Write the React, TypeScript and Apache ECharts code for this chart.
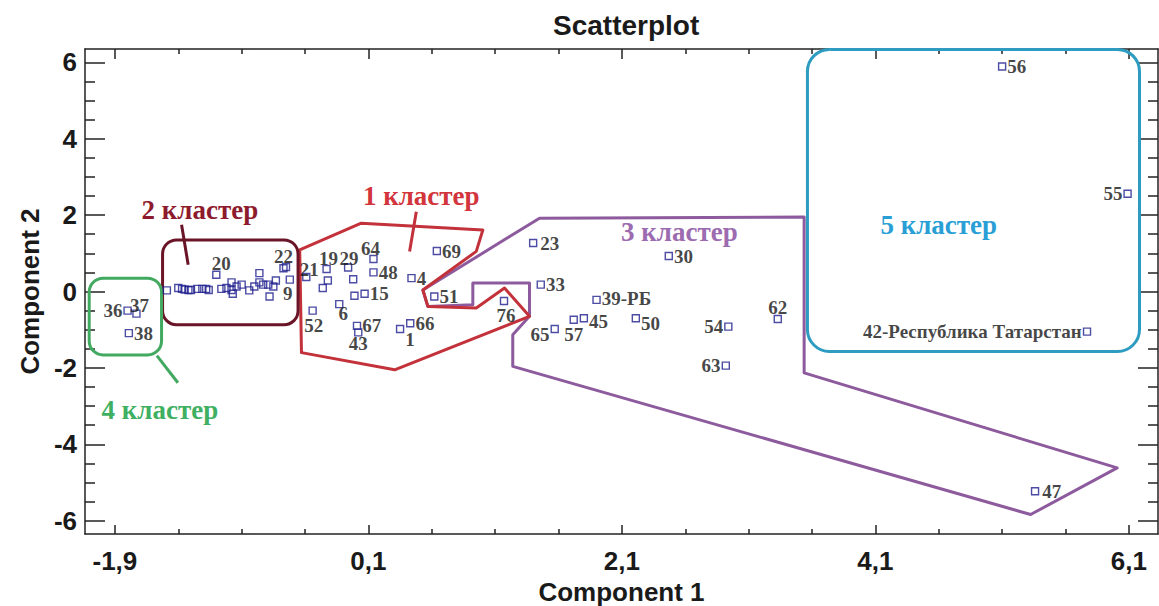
import React, { useEffect, useRef } from 'react';
import * as echarts from 'echarts';

// ---- data (Component 1, Component 2, point labels) ----
const names: string[] = [
  '36', '37', '38',
  '', '', '', '', '', '', '', '', '', '', '20', '', '', '', '', '', '', '', '', '', '', '', '', '', '', '', '', '22', '', '9',
  '21', '19', '', '', '29', '64', '', '48', '', '15', '6', '52', '67', '43', '4', '69', '51', '66', '1', '76',
  '23', '30', '33', '39-РБ', '57', '45', '65', '50', '54', '62', '63', '47',
  '42-Республика Татарстан', '56', '55',
];
const comp1: number[] = [
  -1.80, -1.73, -1.79,
  -1.49, -1.40, -1.37, -1.35, -1.32, -1.30, -1.25, -1.21, -1.18, -1.16, -1.10, -1.06, -1.02, -0.98, -0.98, -0.97, -0.94, -0.90, -0.84, -0.80, -0.76, -0.76, -0.73, -0.69, -0.68, -0.65, -0.63, -0.57, -0.55, -0.52,
  -0.39, -0.23, -0.22, -0.26, -0.06, 0.14, -0.02, 0.14, -0.01, 0.07, -0.13, -0.34, 0.01, 0.02, 0.44, 0.64, 0.62, 0.43, 0.35, 1.17,
  1.40, 2.47, 1.46, 1.90, 1.72, 1.80, 1.57, 2.21, 2.94, 3.33, 2.92, 5.36,
  5.77, 5.10, 6.09,
];
const comp2: number[] = [
  -0.50, -0.58, -1.09,
  0.03, 0.09, 0.07, 0.05, 0.04, 0.04, 0.07, 0.07, 0.07, 0.04, 0.44, 0.07, 0.09, 0.24, 0.04, -0.06, 0.13, 0.18, 0.03, 0.13, 0.48, 0.24, 0.18, 0.18, -0.13, 0.13, 0.29, 0.61, 0.64, 0.31,
  0.38, 0.59, 0.29, 0.09, 0.63, 0.85, 0.32, 0.50, -0.11, -0.06, -0.33, -0.50, -0.90, -1.07, 0.35, 1.06, -0.13, -0.83, -0.98, -0.25,
  1.27, 0.93, 0.18, -0.22, -0.74, -0.70, -0.98, -0.70, -0.92, -0.72, -1.94, -5.23,
  -1.05, 5.89, 2.56,
];

// ---- axis ticks / labels ----
const xMajorTicks = [-1.9, 0.1, 2.1, 4.1, 6.1];
const xMinorTicks = [-1.4, -0.9, -0.4, 0.6, 1.1, 1.6, 2.6, 3.1, 3.6, 4.6, 5.1, 5.6];
const yMajorTicks = [-6, -4, -2, 0, 2, 4, 6];
const yMinorTicks = [-5.5, -5, -4.5, -3.5, -3, -2.5, -1.5, -1, -0.5, 0.5, 1, 1.5, 2.5, 3, 3.5, 4.5, 5, 5.5];
const xRange = [-2.136, 6.33];
const yRange = [-6.35, 6.35];

// ---- label placement (style): position, dx, dy ----
const labelPlacement: Record<string, [string, number, number]> = {
  '36': ['left', 0, 0], '37': ['top', 3, 7], '38': ['right', 0, 0], '20': ['top', 5, 4], '22': ['top', 0, 3],
  '9': ['bottom', -2, -1], '21': ['top', 3, 7], '19': ['top', 2, 4], '29': ['top', 1, 6], '64': ['top', -3, 4],
  '48': ['right', 0, 0], '15': ['right', 0, 0], '6': ['bottom', 4, -5], '52': ['bottom', 1, 0], '67': ['right', 0, 0],
  '43': ['bottom', 0, -4], '4': ['right', 0, 0], '69': ['right', 0, 0], '51': ['right', 0, 0], '66': ['right', 0, 0],
  '1': ['bottom', 10, -4], '76': ['bottom', 2, 0], '23': ['right', 2, 0], '30': ['right', 0, 1], '33': ['right', 0, 0],
  '39-РБ': ['right', 0, -1], '57': ['bottom', 0, 0], '45': ['right', 0, 3], '65': ['left', 0, 6], '50': ['right', 0, 5],
  '54': ['left', 0, 0], '62': ['top', 0, 3], '63': ['left', 0, 0], '47': ['right', 2, 0],
  '42-Республика Татарстан': ['left', 0, 0], '56': ['right', 0, 0], '55': ['left', 0, 0],
};

// ---- cluster annotations (in data coordinates) ----
type Ann =
  | { kind: 'poly'; color: string; points: number[][] }
  | { kind: 'rrect'; color: string; from: number[]; to: number[]; r: number }
  | { kind: 'line'; color: string; from: number[]; to: number[] }
  | { kind: 'text'; color: string; at: number[]; text: string };

const annotations: Ann[] = [
  { kind: 'poly', color: '#8d5b9d', points: [[1.45, 1.92], [0.53, 0.04], [0.569, -0.39], [0.924, -0.35], [0.924, 0.22], [1.371, 0.22], [1.371, -0.65], [1.239, -1.13], [1.239, -1.96], [5.325, -5.84], [6.008, -4.62], [3.538, -2.13], [3.538, 1.95]] },
  { kind: 'poly', color: '#c3323b', points: [[-0.442, 1.09], [0.044, 1.79], [1.003, 1.61], [0.951, 1.05], [0.53, 0.04], [0.569, -0.39], [0.951, -0.43], [1.174, 0.09], [1.371, -0.65], [0.307, -2.05], [-0.428, -1.6]] },
  { kind: 'line', color: '#c3323b', from: [0.478, 2.09], to: [0.425, 1.05] },
  { kind: 'rrect', color: '#6a1527', from: [-1.524, 1.35], to: [-0.455, -0.87], r: 14 },
  { kind: 'line', color: '#6a1527', from: [-1.374, 1.75], to: [-1.322, 0.7] },
  { kind: 'rrect', color: '#42a960', from: [-2.103, 0.35], to: [-1.532, -1.66], r: 14 },
  { kind: 'line', color: '#42a960', from: [-1.569, -1.68], to: [-1.403, -2.39] },
  { kind: 'rrect', color: '#2e9cc0', from: [3.564, 6.34], to: [6.184, -1.57], r: 22 },
  { kind: 'text', color: '#d2353c', at: [0.517, 2.49], text: '1 кластер' },
  { kind: 'text', color: '#8e1b2d', at: [-1.23, 2.14], text: '2 кластер' },
  { kind: 'text', color: '#9d6bb0', at: [2.553, 1.55], text: '3 кластер' },
  { kind: 'text', color: '#3fb062', at: [-1.545, -3.09], text: '4 кластер' },
  { kind: 'text', color: '#2a9fd6', at: [4.6, 1.75], text: '5 кластер' },
];

const SANS = '"Liberation Sans", Arial, sans-serif';
const SERIF = '"Liberation Serif", "Times New Roman", serif';
const fmt = (v: number) => String(v).replace('.', ',');

export default function App() {
  const ref = useRef<HTMLDivElement>(null);
  useEffect(() => {
    if (!ref.current) return;
    const chart = echarts.init(ref.current, undefined, { renderer: 'svg' });

    const pointData = comp1.map((x, i) => {
      const n = names[i];
      const pl = labelPlacement[n] || ['right', 0, 0];
      return {
        value: [x, comp2[i]],
        name: n,
        label: { show: n !== '', position: pl[0] },
      };
    });

    const axisLabelStyle = { fontFamily: SANS, fontWeight: 'bold', fontSize: 26, color: '#1a1a1a' };
    const lineStyle = { color: '#222', width: 1.5 };

    const xBase = { type: 'value', min: xRange[0], max: xRange[1], splitLine: { show: false }, gridIndex: 0 };
    const yBase = { type: 'value', min: yRange[0], max: yRange[1], splitLine: { show: false }, gridIndex: 0 };
    const lineOn = { show: true, onZero: false, lineStyle };
    const lineOff = { show: false, onZero: false };

    chart.setOption({
      animation: false,
      backgroundColor: '#fff',
      title: {
        text: 'Scatterplot',
        left: 548,
        top: 6,
        textStyle: { fontFamily: SANS, fontWeight: 'bold', fontSize: 28, color: '#1a1a1a' },
      },
      grid: { left: 85, top: 49, right: 1, bottom: 72, outerBoundsMode: 'none', containLabel: false },
      xAxis: [
        {
          ...xBase, position: 'bottom',
          name: 'Component 1', nameLocation: 'middle', nameGap: 42,
          nameTextStyle: { ...axisLabelStyle },
          axisLine: lineOn,
          axisTick: { show: true, inside: true, length: 9, customValues: xMajorTicks, lineStyle },
          axisLabel: { show: true, customValues: xMajorTicks, formatter: fmt, margin: 14, ...axisLabelStyle },
        },
        {
          ...xBase, position: 'bottom',
          axisLine: lineOff,
          axisTick: { show: true, inside: true, length: 5, customValues: xMinorTicks, lineStyle },
          axisLabel: { show: false },
        },
        {
          ...xBase, position: 'top',
          axisLine: lineOn,
          axisTick: { show: true, inside: true, length: 10, customValues: xMajorTicks, lineStyle },
          axisLabel: { show: false },
        },
        {
          ...xBase, position: 'top',
          axisLine: lineOff,
          axisTick: { show: true, inside: true, length: 5, customValues: xMinorTicks, lineStyle },
          axisLabel: { show: false },
        },
      ],
      yAxis: [
        {
          ...yBase, position: 'left',
          name: 'Component 2', nameLocation: 'middle', nameGap: 42, nameRotate: 90,
          nameTextStyle: { ...axisLabelStyle },
          axisLine: lineOn,
          axisTick: { show: true, inside: true, length: 20, customValues: yMajorTicks, lineStyle },
          axisLabel: { show: true, customValues: yMajorTicks, margin: 8, ...axisLabelStyle },
        },
        {
          ...yBase, position: 'left',
          axisLine: lineOff,
          axisTick: { show: true, inside: true, length: 10, customValues: yMinorTicks, lineStyle },
          axisLabel: { show: false },
        },
        {
          ...yBase, position: 'right',
          axisLine: lineOn,
          axisTick: { show: true, inside: true, length: 20, customValues: yMajorTicks, lineStyle },
          axisLabel: { show: false },
        },
        {
          ...yBase, position: 'right',
          axisLine: lineOff,
          axisTick: { show: true, inside: true, length: 10, customValues: yMinorTicks, lineStyle },
          axisLabel: { show: false },
        },
      ],
      series: [
        {
          type: 'custom',
          xAxisIndex: 0,
          yAxisIndex: 0,
          z: 2,
          clip: false,
          silent: true,
          data: annotations.map(() => [0, 0]),
          renderItem: (params: any, api: any) => {
            const a = annotations[params.dataIndex];
            if (a.kind === 'poly') {
              return {
                type: 'polygon',
                shape: { points: a.points.map((p) => api.coord(p)) },
                style: { fill: 'none', stroke: a.color, lineWidth: 3, lineJoin: 'round' },
              };
            }
            if (a.kind === 'rrect') {
              const p1 = api.coord(a.from);
              const p2 = api.coord(a.to);
              return {
                type: 'rect',
                shape: {
                  x: Math.min(p1[0], p2[0]), y: Math.min(p1[1], p2[1]),
                  width: Math.abs(p2[0] - p1[0]), height: Math.abs(p2[1] - p1[1]), r: a.r,
                },
                style: { fill: 'none', stroke: a.color, lineWidth: 3 },
              };
            }
            if (a.kind === 'line') {
              const p1 = api.coord(a.from);
              const p2 = api.coord(a.to);
              return {
                type: 'line',
                shape: { x1: p1[0], y1: p1[1], x2: p2[0], y2: p2[1] },
                style: { stroke: a.color, lineWidth: 3 },
              };
            }
            const p = api.coord(a.at);
            return {
              type: 'text',
              x: p[0],
              y: p[1],
              style: {
                text: a.text, fill: a.color, font: `bold 27px ${SERIF}`,
                align: 'center', verticalAlign: 'middle',
              },
            };
          },
        },
        {
          type: 'scatter',
          xAxisIndex: 0,
          yAxisIndex: 0,
          z: 3,
          symbol: 'rect',
          symbolSize: 7,
          itemStyle: { color: 'rgba(255,255,255,0)', borderColor: '#1f1f8f', borderWidth: 1.4 },
          label: {
            show: true,
            formatter: '{b}',
            distance: 1,
            fontFamily: SERIF,
            fontWeight: 'bold',
            fontSize: 19,
            lineHeight: 19,
            color: '#141414',
          },
          labelLayout: (params: any) => {
            const pl = labelPlacement[names[params.dataIndex]];
            if (!pl) return {};
            return { dx: pl[1], dy: pl[2], hideOverlap: false };
          },
          data: pointData,
        },
      ],
    });

    return () => chart.dispose();
  }, []);

  return (
    <div
      ref={ref}
      style={{ position: 'absolute', left: 0, top: 0, width: 1159, height: 606 }}
    />
  );
}
